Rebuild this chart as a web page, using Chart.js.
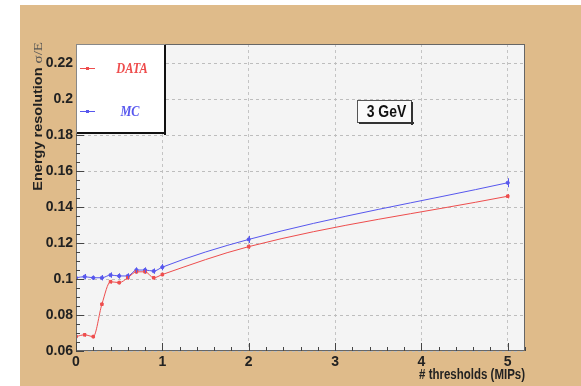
<!DOCTYPE html>
<html>
<head>
<meta charset="utf-8">
<script src="https://cdn.jsdelivr.net/npm/chart.js@4.4.1/dist/chart.umd.min.js"></script>
<style>
  html, body { margin: 0; padding: 0; background: #fff; }
</style>
</head>
<body>
<canvas id="resolution" width="581" height="386"></canvas>
<script>
// thresholds in MIPs
const thresholds = [0, 0.1, 0.2, 0.3, 0.4, 0.5, 0.6, 0.7, 0.8, 0.9, 1, 2, 5];
// energy resolution sigma/E
const dataRes = [0.068, 0.069, 0.068, 0.086, 0.0985, 0.098, 0.1007, 0.104, 0.104, 0.1007, 0.1025, 0.118, 0.146];
const dataErr = [0.001, 0.001, 0.001, 0.001, 0.001, 0.001, 0.001, 0.001, 0.001, 0.001, 0.001, 0.0012, 0.0012];
const mcRes = [0.1007, 0.1013, 0.1007, 0.1007, 0.1022, 0.1017, 0.1017, 0.105, 0.105, 0.1044, 0.1066, 0.122, 0.1535];
const mcErr = [0.0012, 0.0015, 0.0012, 0.0015, 0.0015, 0.0015, 0.0015, 0.0015, 0.0015, 0.0015, 0.0018, 0.002, 0.0025];
const xTickValues = [0, 1, 2, 3, 4, 5];
const yTickValues = [0.06, 0.08, 0.1, 0.12, 0.14, 0.16, 0.18, 0.2, 0.22];

const RED = '#ee4d4d';
const BLUE = '#5757ee';
const SANS = '"Liberation Sans Narrow", "Arial Narrow", "Liberation Sans", Arial, sans-serif';

function toPoints(xs, ys) {
  return xs.map((x, i) => ({ x: x, y: ys[i] }));
}

// tan canvas + grey pad
const backgroundPlugin = {
  id: 'rootBackground',
  beforeDraw(chart) {
    const ctx = chart.ctx;
    const a = chart.chartArea;
    ctx.save();
    ctx.fillStyle = '#ffffff';
    ctx.fillRect(0, 0, chart.width, chart.height);
    ctx.fillStyle = '#dfbb8a';
    ctx.fillRect(20, 5, chart.width - 20, chart.height - 5);
    ctx.fillStyle = '#f4f4f4';
    ctx.fillRect(a.left, a.top, a.right - a.left, a.bottom - a.top);
    ctx.restore();
  }
};

// error bars, frame, minor ticks, legend, label, axis titles
const decorPlugin = {
  id: 'rootDecor',
  afterDatasetsDraw(chart) {
    const ctx = chart.ctx;
    const ys = chart.scales.y;
    ctx.save();
    chart.data.datasets.forEach((ds, di) => {
      const meta = chart.getDatasetMeta(di);
      ctx.strokeStyle = ds.borderColor;
      ctx.lineWidth = 1;
      meta.data.forEach((pt, i) => {
        const v = ds.data[i].y;
        const e = ds.errors[i];
        ctx.beginPath();
        ctx.moveTo(Math.round(pt.x) + 0.5, ys.getPixelForValue(v - e));
        ctx.lineTo(Math.round(pt.x) + 0.5, ys.getPixelForValue(v + e));
        ctx.stroke();
      });
    });
    ctx.restore();
  },
  afterDraw(chart) {
    const ctx = chart.ctx;
    const a = chart.chartArea;
    const xs = chart.scales.x;
    const ys = chart.scales.y;
    ctx.save();

    // frame
    ctx.strokeStyle = '#666';
    ctx.lineWidth = 1;
    ctx.strokeRect(a.left + 0.5, a.top + 0.5, a.right - a.left - 1, a.bottom - a.top - 1);

    // ticks on the axes, drawn inwards
    ctx.strokeStyle = '#444';
    ctx.beginPath();
    for (let k = 0; k <= 34; k++) {
      const v = 0.06 + k * 0.005;
      if (v > ys.max) break;
      const p = Math.round(ys.getPixelForValue(v)) + 0.5;
      const len = k % 4 === 0 ? 8 : 4;
      ctx.moveTo(a.left, p);
      ctx.lineTo(a.left + len, p);
    }
    for (let k = 0; k <= 26; k++) {
      const v = k * 0.2;
      if (v > xs.max) break;
      const p = Math.round(xs.getPixelForValue(v)) + 0.5;
      const len = k % 5 === 0 ? 8 : 4;
      ctx.moveTo(p, a.bottom);
      ctx.lineTo(p, a.bottom - len);
    }
    ctx.stroke();

    // legend box
    const lx = a.left, ly = a.top, lw = 89, lh = 89;
    ctx.fillStyle = '#ffffff';
    ctx.fillRect(lx, ly, lw, lh);
    ctx.strokeStyle = '#888';
    ctx.strokeRect(lx + 0.5, ly + 0.5, lw - 1, lh - 1);
    ctx.fillStyle = '#111';
    ctx.fillRect(lx + lw - 1, ly + 1, 2, lh + 1);
    ctx.fillRect(lx + 1, ly + lh - 1, lw, 2);

    const entries = [
      { label: 'DATA', color: RED, y: ly + 24, tx: lx + 56, style: 'rect' },
      { label: 'MC', color: BLUE, y: ly + 67, tx: lx + 54, style: 'circle' }
    ];
    entries.forEach(en => {
      ctx.strokeStyle = en.color;
      ctx.lineWidth = 1;
      ctx.beginPath();
      ctx.moveTo(lx + 4, en.y + 0.5);
      ctx.lineTo(lx + 19, en.y + 0.5);
      ctx.stroke();
      ctx.fillStyle = en.color;
      ctx.fillRect(lx + 10, en.y - 1, 3, 3);
      ctx.save();
      ctx.translate(en.tx, en.y);
      ctx.scale(0.82, 1);
      ctx.font = 'italic bold 15px "Liberation Serif", "Times New Roman", serif';
      ctx.textAlign = 'center';
      ctx.textBaseline = 'middle';
      ctx.fillText(en.label, 0, 1);
      ctx.restore();
    });

    // "3 GeV" label
    const bx = 357, by = 100, bw = 55, bh = 23;
    ctx.fillStyle = '#fafafa';
    ctx.fillRect(bx, by, bw, bh);
    ctx.strokeStyle = '#555';
    ctx.strokeRect(bx + 0.5, by + 0.5, bw - 1, bh - 1);
    ctx.fillStyle = '#333';
    ctx.fillRect(bx + bw - 1, by + 2, 2, bh);
    ctx.fillRect(bx + 2, by + bh - 1, bw, 2);
    ctx.save();
    ctx.translate(bx + bw / 2 + 2, by + bh / 2 + 1);
    ctx.scale(0.82, 1);
    ctx.fillStyle = '#111';
    ctx.font = 'bold 17px "Liberation Sans", Arial, sans-serif';
    ctx.textAlign = 'center';
    ctx.textBaseline = 'middle';
    ctx.fillText('3 GeV', 0, 0);
    ctx.restore();

    // x axis title
    ctx.save();
    ctx.translate(a.right, 375);
    ctx.scale(0.82, 1);
    ctx.fillStyle = '#222';
    ctx.font = 'bold 14px "Liberation Sans", Arial, sans-serif';
    ctx.textAlign = 'right';
    ctx.textBaseline = 'middle';
    ctx.fillText('# thresholds (MIPs)', 0, 0);
    ctx.restore();

    // y axis title
    ctx.save();
    ctx.translate(39, 42);
    ctx.rotate(-Math.PI / 2);
    ctx.scale(1, 0.82);
    ctx.textAlign = 'right';
    ctx.textBaseline = 'middle';
    ctx.font = '15px "Liberation Serif", "Times New Roman", serif';
    ctx.fillStyle = '#555';
    ctx.fillText('\u03c3/E', 0, 0);
    const w = ctx.measureText('\u03c3/E').width;
    ctx.font = 'bold 14.5px "Liberation Sans", Arial, sans-serif';
    ctx.fillStyle = '#222';
    ctx.fillText('Energy resolution', -w - 4, 0);
    ctx.restore();

    ctx.restore();
  }
};

new Chart(document.getElementById('resolution'), {
  type: 'line',
  data: {
    datasets: [
      {
        label: 'DATA',
        data: toPoints(thresholds, dataRes),
        errors: dataErr,
        borderColor: RED,
        backgroundColor: RED,
        borderWidth: 1,
        pointStyle: 'rect',
        pointRadius: 1.8,
        cubicInterpolationMode: 'monotone'
      },
      {
        label: 'MC',
        data: toPoints(thresholds, mcRes),
        errors: mcErr,
        borderColor: BLUE,
        backgroundColor: BLUE,
        borderWidth: 1,
        pointStyle: 'circle',
        pointRadius: 1.6,
        cubicInterpolationMode: 'monotone'
      }
    ]
  },
  options: {
    responsive: false,
    devicePixelRatio: 1,
    animation: false,
    layout: { padding: { left: 0, top: 44, right: 56, bottom: 0 } },
    plugins: {
      legend: { display: false },
      tooltip: { enabled: false }
    },
    scales: {
      x: {
        type: 'linear',
        min: 0,
        max: 5.2,
        afterFit(scale) { scale.height = 35; },
        afterBuildTicks(scale) { scale.ticks = xTickValues.map(v => ({ value: v })); },
        grid: { color: '#c4c4c4', drawTicks: false },
        border: { display: false, dash: [3, 3] },
        ticks: {
          padding: 3,
          color: '#222',
          font: { family: SANS, size: 14, weight: 'bold' },
          callback: v => String(v)
        }
      },
      y: {
        type: 'linear',
        min: 0.06,
        max: 0.2306,
        afterFit(scale) { scale.width = 76; },
        afterBuildTicks(scale) { scale.ticks = yTickValues.map(v => ({ value: v })); },
        grid: { color: '#bdbdbd', drawTicks: false },
        border: { display: false, dash: [3, 3] },
        ticks: {
          padding: 3,
          color: '#222',
          font: { family: SANS, size: 14, weight: 'bold' },
          callback: v => String(+v.toFixed(3))
        }
      }
    }
  },
  plugins: [backgroundPlugin, decorPlugin]
});
</script>
</body>
</html>
